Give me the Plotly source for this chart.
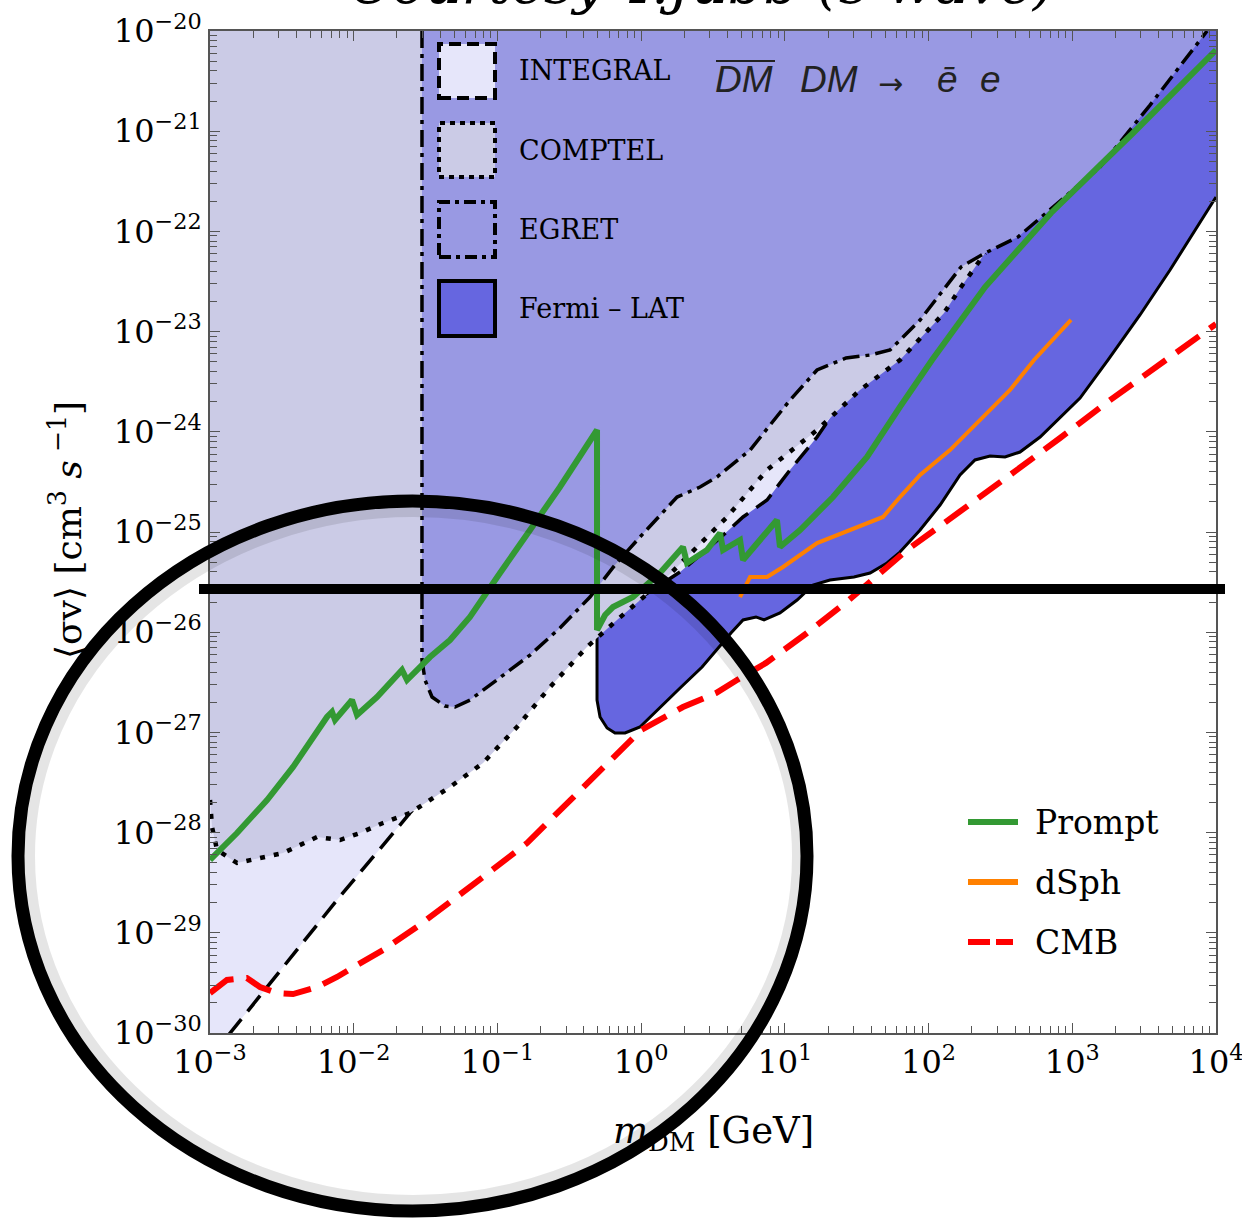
import plotly.graph_objects as go

# ---------------- data (log10 of mass [GeV] and <sigma v> [cm^3/s]) -------------
fermi_log_m = [-0.307, -0.307, -0.286, -0.237, -0.182, -0.112, -0.008, 0.138, 0.271, 0.424, 0.625, 0.709,
               0.799, 0.855, 0.966, 1.085, 1.196, 1.314, 1.481, 1.593, 1.711, 1.801, 1.941, 2.080, 2.219,
               2.323, 2.428, 2.532, 2.636, 2.776, 2.915, 3.054, 3.249, 3.471, 3.680, 3.854, 4.000]
fermi_log_sv = [-25.95, -26.677, -26.846, -26.956, -27.006, -27.006, -26.946, -26.747, -26.557, -26.347,
                -26.008, -25.878, -25.848, -25.878, -25.808, -25.679, -25.529, -25.479, -25.449, -25.409,
                -25.309, -25.200, -24.980, -24.731, -24.431, -24.281, -24.242, -24.251, -24.202, -24.052,
                -23.862, -23.663, -23.283, -22.834, -22.385, -21.986, -21.657]

integral_log_m = [-3.000, -2.861, -2.116, -1.608, -1.330, -0.982, -0.634, -0.307, -0.008, 0.271, 0.410,
                  0.549, 0.709, 0.876, 1.036, 1.224, 1.314, 1.523, 1.801]
integral_log_sv = [-30.25, -30.000, -28.673, -27.804, -27.355, -26.796, -26.357, -25.958, -25.659, -25.399,
                   -25.230, -25.060, -24.850, -24.681, -24.381, -24.052, -23.862, -23.403, -22.984]

comptel_log_m = [-3.000, -2.986, -2.951, -2.812, -2.652, -2.492, -2.255, -2.095, -1.956, -1.796, -1.608,
                 -1.330, -1.100, -0.864, -0.634, -0.377, -0.168, 0.180, 0.598, 0.876, 1.224, 1.523, 1.801,
                 2.108, 2.226, 2.393]
comptel_log_sv = [-27.675, -27.944, -28.174, -28.303, -28.254, -28.204, -28.044, -28.074, -28.004, -27.904,
                  -27.804, -27.545, -27.305, -26.946, -26.547, -26.148, -25.878, -25.449, -24.850, -24.381,
                  -23.982, -23.583, -23.283, -22.814, -22.555, -22.216]

egret_log_m = [-1.525, -1.525, -1.504, -1.455, -1.365, -1.295, -1.191, -0.982, -0.773, -0.565, -0.356,
               -0.182, -0.008, 0.250, 0.410, 0.528, 0.758, 1.036, 1.224, 1.426, 1.593, 1.732, 1.941, 2.226,
               2.393, 2.622, 2.915, 3.193, 3.541, 3.938]
egret_log_sv = [-20.000, -26.277, -26.477, -26.647, -26.737, -26.747, -26.677, -26.447, -26.228, -25.958,
                -25.649, -25.329, -25.050, -24.651, -24.551, -24.451, -24.182, -23.683, -23.383, -23.263,
                -23.234, -23.184, -22.884, -22.355, -22.216, -22.056, -21.697, -21.357, -20.739, -20.000]

prompt_log_m = [-3.000, -2.812, -2.603, -2.422, -2.186, -2.151, -2.130, -2.012, -1.977, -1.838, -1.664,
                -1.629, -1.469, -1.330, -1.191, -1.100, -0.982, -0.773, -0.565, -0.307, -0.307, -0.251,
                -0.196, -0.057, 0.131, 0.291, 0.319, 0.458, 0.549, 0.570, 0.688, 0.709, 0.897, 0.945,
                0.966, 1.106, 1.335, 1.572, 1.801, 2.024, 2.393, 2.852, 3.423, 4.000]
prompt_log_sv = [-28.273, -28.004, -27.675, -27.345, -26.846, -26.796, -26.876, -26.677, -26.826, -26.647,
                 -26.377, -26.477, -26.248, -26.078, -25.848, -25.649, -25.409, -24.980, -24.551, -23.982,
                 -25.978, -25.828, -25.749, -25.649, -25.409, -25.150, -25.309, -25.180, -25.010, -25.180,
                 -25.080, -25.279, -24.950, -24.880, -25.150, -24.980, -24.651, -24.251, -23.752, -23.283,
                 -22.555, -21.816, -21.018, -20.190]

dsph_log_m = [0.688, 0.758, 0.876, 0.987, 1.224, 1.453, 1.683, 1.801, 1.941, 2.149, 2.358, 2.567, 2.734, 2.991]
dsph_log_sv = [-25.649, -25.449, -25.449, -25.349, -25.110, -24.980, -24.850, -24.651, -24.431, -24.182,
               -23.882, -23.583, -23.283, -22.884]

cmb_log_m = [-3.000, -2.882, -2.743, -2.652, -2.534, -2.422, -2.255, -2.116, -1.977, -1.796, -1.560, -1.260,
             -1.100, -0.794, -0.446, -0.126, 0.000, 0.291, 0.521, 0.667, 0.869, 1.154, 1.446, 1.850, 2.219,
             2.567, 2.915, 3.263, 3.652, 4.000]
cmb_log_sv = [-29.601, -29.471, -29.451, -29.541, -29.601, -29.611, -29.541, -29.441, -29.321, -29.172,
              -28.942, -28.623, -28.443, -28.104, -27.605, -27.146, -26.976, -26.747, -26.607, -26.477,
              -26.307, -26.008, -25.679, -25.180, -24.800, -24.431, -24.062, -23.683, -23.283, -22.924]

x_tick_exps = [-3, -2, -1, 0, 1, 2, 3, 4]
y_tick_exps = [-30, -29, -28, -27, -26, -25, -24, -23, -22, -21, -20]

region_names = ["INTEGRAL", "COMPTEL", "EGRET", "Fermi – LAT"]
line_names = ["Prompt", "dSph", "CMB"]

# ---------------- styling ----------------
C_INTEGRAL = "#E6E6FA"
C_COMPTEL = "#CBCBE6"
C_EGRET = "#9999E3"
C_FERMI = "#6666E0"
C_PROMPT = "#339933"
C_DSPH = "#FF8000"
C_CMB = "#FF0000"
SERIF = "DejaVu Serif"
SANS = "Liberation Sans"

W, H = 1242, 1219
L, R, T, B = 210, 1216, 31, 1033   # plot area in pixels


def pxx(px):
    return (px - L) / (R - L)


def pxy(py):
    return (B - py) / (B - T)


def lin(v):
    return [10 ** a for a in v]


TOP = 1e-20
fig = go.Figure()


def add_fill(xs, ys, color):
    fig.add_trace(go.Scatter(x=xs, y=ys, mode="lines", fill="toself", fillcolor=color,
                             line=dict(width=0, color=color), hoverinfo="skip", showlegend=False))


def add_line(xs, ys, color, width, dash="solid"):
    fig.add_trace(go.Scatter(x=xs, y=ys, mode="lines", line=dict(color=color, width=width, dash=dash),
                             hoverinfo="skip", showlegend=False))


# Fermi (bottom layer)
fx, fy = lin(fermi_log_m), lin(fermi_log_sv)
add_fill([fx[0]] + fx + [fx[-1]], [TOP] + fy + [TOP], C_FERMI)
add_line(fx, fy, "black", 3)

# INTEGRAL
ix, iy = lin(integral_log_m), lin(integral_log_sv)
add_fill(ix + [ix[-1], ix[0]], iy + [TOP, TOP], C_INTEGRAL)
add_line(ix, iy, "black", 3.5, "20px,10px")

# COMPTEL
cx, cy = lin(comptel_log_m), lin(comptel_log_sv)
add_fill([cx[0]] + cx + [cx[-1]], [TOP] + cy + [TOP], C_COMPTEL)
add_line(cx, cy, "black", 4.5, "5px,9px")

# EGRET
ex, ey = lin(egret_log_m), lin(egret_log_sv)
add_fill(ex, ey, C_EGRET)
add_line(ex, ey, "black", 3.5, "17px,6px,4px,6px")

# limits
add_line(lin(cmb_log_m), lin(cmb_log_sv), C_CMB, 6, "28px,13px")
add_line(lin(dsph_log_m), lin(dsph_log_sv), C_DSPH, 4)
add_line(lin(prompt_log_m), lin(prompt_log_sv), C_PROMPT, 6)


def sup(e):
    s = str(e).replace("-", "−")
    return f"10<sup>{s}</sup>"


def minors(exps):
    out = []
    for e in exps[:-1]:
        for k in range(2, 10):
            out.append(k * 10 ** e)
    return out


axis_common = dict(type="log", ticks="inside", ticklen=10, tickwidth=1.2, tickcolor="#555555",
                   showline=True, linecolor="#555555", linewidth=1.5, mirror="ticks",
                   showgrid=False, zeroline=False, automargin=False, ticklabeloverflow="allow",
                   tickfont=dict(family=SERIF, size=32, color="black"))

fig.update_xaxes(range=[-3, 4], tickmode="array", tickvals=[10 ** e for e in x_tick_exps],
                 ticktext=[sup(e) for e in x_tick_exps],
                 minor=dict(tickmode="array", tickvals=minors(x_tick_exps), ticks="inside", ticklen=7,
                            tickwidth=1, tickcolor="#555555", showgrid=False),
                 **axis_common)
fig.update_yaxes(range=[-30, -20], tickmode="array", tickvals=[10 ** e for e in y_tick_exps],
                 ticktext=[sup(e) for e in y_tick_exps],
                 minor=dict(tickmode="array", tickvals=minors(y_tick_exps), ticks="inside", ticklen=7,
                            tickwidth=1, tickcolor="#555555", showgrid=False),
                 **axis_common)

shapes = []
annotations = []

# region legend (boxes + labels)
box_rows = [(44, 98, C_INTEGRAL, "12px,6px"), (123, 177, C_COMPTEL, "5px,5px"),
            (202, 257, C_EGRET, "12px,5px,4px,5px"), (281, 336, C_FERMI, "solid")]
for (y0, y1, col, dash), name in zip(box_rows, region_names):
    shapes.append(dict(type="rect", xref="paper", yref="paper", x0=pxx(439), x1=pxx(495),
                       y0=pxy(y1), y1=pxy(y0), fillcolor=col,
                       line=dict(color="black", width=4, dash=dash), layer="above"))
    annotations.append(dict(text=name, xref="paper", yref="paper", x=pxx(517), y=pxy((y0 + y1) / 2),
                            xanchor="left", yanchor="middle", showarrow=False,
                            font=dict(family=SERIF, size=27, color="black")))

# process label
proc_tokens = [("DM", 713), ("DM", 798), ("→", 876), ("ē", 935), ("e", 978)]
for tok, x0 in proc_tokens:
    if tok == "→":
        annotations.append(dict(text=tok, xref="paper", yref="paper", x=pxx(x0), y=pxy(84),
                                xanchor="left", yanchor="middle", showarrow=False,
                                font=dict(family="DejaVu Sans", size=30, color="#222222")))
    else:
        annotations.append(dict(text=f"<i>{tok}</i>", xref="paper", yref="paper", x=pxx(x0), y=pxy(80),
                                xanchor="left", yanchor="middle", showarrow=False,
                                font=dict(family=SANS, size=37, color="#222222")))
shapes.append(dict(type="line", xref="paper", yref="paper", x0=pxx(716), x1=pxx(775), y0=pxy(61),
                   y1=pxy(61), line=dict(color="#222222", width=2), layer="above"))

# line legend
leg_rows = [(822, C_PROMPT, 6), (882, C_DSPH, 6), (942, C_CMB, 6)]
for (yy, col, wd), name in zip(leg_rows, line_names):
    if name == "CMB":
        for a, b in [(968, 990), (996, 1013)]:
            shapes.append(dict(type="line", xref="paper", yref="paper", x0=pxx(a), x1=pxx(b),
                               y0=pxy(yy), y1=pxy(yy), line=dict(color=col, width=wd), layer="above"))
    else:
        shapes.append(dict(type="line", xref="paper", yref="paper", x0=pxx(968), x1=pxx(1018),
                           y0=pxy(yy), y1=pxy(yy), line=dict(color=col, width=wd), layer="above"))
    annotations.append(dict(text=name, xref="paper", yref="paper", x=pxx(1033), y=pxy(yy),
                            xanchor="left", yanchor="middle", showarrow=False,
                            font=dict(family=SERIF, size=33, color="black")))

# axis titles
annotations.append(dict(text="<i>m</i><sub>DM</sub> [GeV]", xref="paper", yref="paper",
                        x=pxx(713), y=pxy(1133), xanchor="center", yanchor="middle", showarrow=False,
                        font=dict(family=SERIF, size=37, color="black")))
annotations.append(dict(text="⟨σv⟩ [cm<sup>3</sup> <i>s</i><sup> −1</sup>]", xref="paper", yref="paper",
                        x=pxx(66), y=pxy(530), xanchor="center", yanchor="middle", textangle=-90,
                        showarrow=False, font=dict(family=SERIF, size=36, color="black")))

# clipped title at the very top
annotations.append(dict(text="<i>Courtesy T.Jubb (s-wave)</i>", xref="paper", yref="paper",
                        x=pxx(702), y=pxy(-16), xanchor="center", yanchor="middle", showarrow=False,
                        font=dict(family=SERIF, size=56, color="black")))

# hand-drawn annotations: ellipse (with a soft inner shadow) and horizontal bar
shapes.append(dict(type="circle", xref="paper", yref="paper", x0=pxx(28), x1=pxx(799),
                   y0=pxy(1202), y1=pxy(510), line=dict(color="rgba(0,0,0,0.10)", width=14),
                   layer="above"))
shapes.append(dict(type="circle", xref="paper", yref="paper", x0=pxx(18), x1=pxx(807),
                   y0=pxy(1211), y1=pxy(501), line=dict(color="black", width=13), layer="above"))
shapes.append(dict(type="line", xref="paper", yref="paper", x0=pxx(199), x1=pxx(1225),
                   y0=pxy(589), y1=pxy(589), line=dict(color="black", width=10), layer="above"))

fig.update_layout(width=W, height=H, margin=dict(l=L, r=W - R, t=T, b=H - B, pad=0),
                  paper_bgcolor="white", plot_bgcolor="white", showlegend=False,
                  shapes=shapes, annotations=annotations)

fig.write_html("out.html")
